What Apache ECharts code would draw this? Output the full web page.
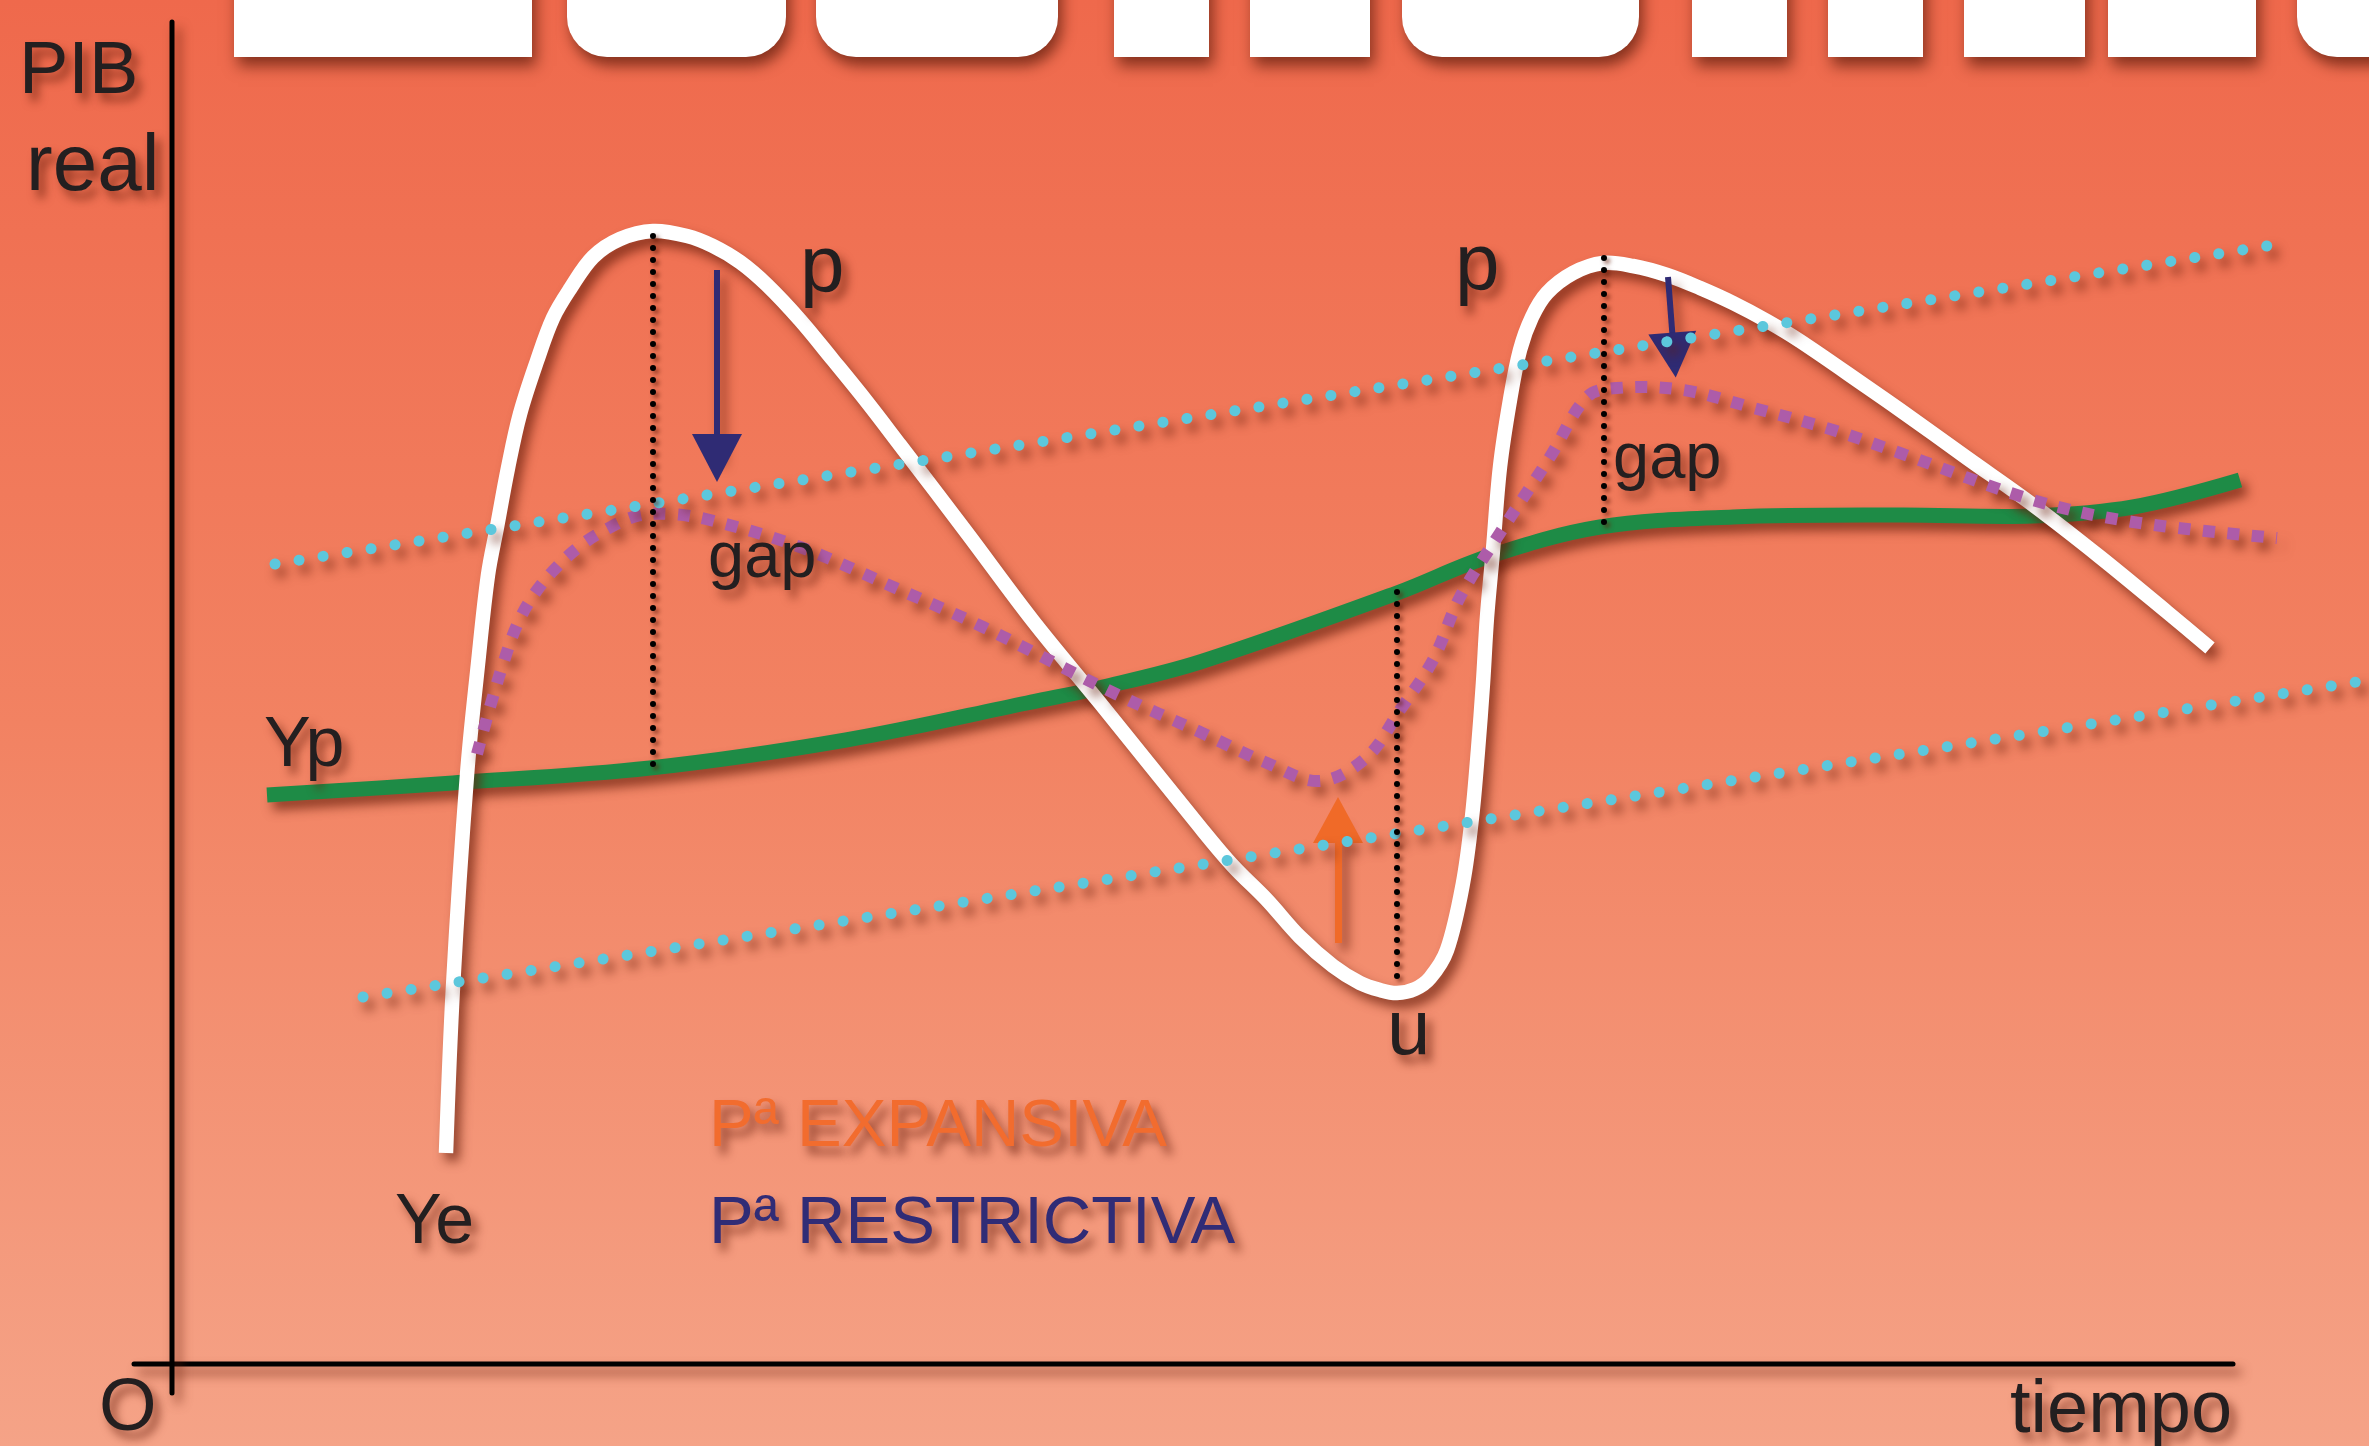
<!DOCTYPE html>
<html>
<head>
<meta charset="utf-8">
<script src="https://cdn.jsdelivr.net/npm/echarts@6.0.0/dist/echarts.min.js"></script>
<style>
html,body{margin:0;padding:0;width:2369px;height:1446px;overflow:hidden;background:#F2805F}
#chart{width:2369px;height:1446px}
</style>
</head>
<body>
<div id="chart"></div>
<script>
// ---- Data (x = tiempo, y = PIB real; origin at "O") ----
// Ye: actual output (white curve)
const ye = [
  [274,211],[281,377],[295,589],[306,700],[316,789],[325,837],[336,896],[348,950],
  [365,1003],[381,1046],[398,1075],[421,1107],[448,1125],[481,1133],[515,1128],[541,1118],
  [568,1102],[595,1079],[628,1044],[661,1004],[695,962],[728,919],[795,831],[861,743],
  [928,661],[1028,537],[1061,498],[1095,464],[1128,427],[1161,398],[1188,381],[1208,374],
  [1225,371],[1243,375],[1258,386],[1275,414],[1291,481],[1300,547],[1306,614],[1311,681],
  [1315,747],[1321,814],[1328,897],[1338,964],[1348,1014],[1360,1047],[1375,1071],
  [1401,1091],[1431,1101],[1461,1098],[1495,1089],[1528,1076],[1561,1061],[1595,1043],
  [1628,1023],[1695,977],[1728,954],[1795,906],[1861,859],[1928,807],[1995,752],[2038,716]
];
// Yp: potential output (green curve)
const yp = [
  [95,569],[281,581],[478,596],[674,624],[855,661],[931,677],[1028,702],[1225,771],
  [1315,807],[1428,837],[1561,847],[1728,849],[1861,848],[1961,857],[2068,884]
];
// Output path with policy (purple dotted)
const yPolicy = [
  [305,610],[318,657],[331,700],[345,739],[361,768],[381,793],[408,818],[435,835],
  [465,848],[498,850],[538,844],[628,817],[728,774],[811,737],[946,669],[1028,632],
  [1095,601],[1148,583],[1195,607],[1228,654],[1261,704],[1288,767],[1328,831],[1378,907],
  [1415,967],[1445,976],[1511,974],[1578,957],[1661,934],[1728,911],[1861,864],[1961,842],
  [2105,826]
];
// Band limits (cyan dotted)
const bandUpper = [[103,800],[2095,1118]];
const bandLower = [[191,367],[2197,684]];
// Gap markers (black dotted verticals)
const gap1 = [[481,1128],[481,596]];
const gap2 = [[1225,772],[1225,379]];
const gap3 = [[1432,1106],[1432,836]];
// Policy arrows [start, end]
const arrowRestr1 = [[545,1094],[545,906]];
const arrowRestr2 = [[1496,1087],[1502,1009]];
const arrowExpan  = [[1166,421],[1166,544]];
// Axes
const axisXLine = [[-38,0],[2061,0]];
const axisYLine = [[0,-29],[0,1342]];

// ---- Styles ----
const SH = {shadowBlur: 11, shadowColor: 'rgba(100,28,10,0.68)', shadowOffsetX: 6, shadowOffsetY: 8};
const TSH = {textShadowBlur: 10, textShadowColor: 'rgba(100,28,10,0.65)', textShadowOffsetX: 6, textShadowOffsetY: 8};
const DARK = '#231F20';
const FONT = '"Liberation Sans", Arial, sans-serif';

function lineSeries(name, data, style, z) {
  return {
    name, type: 'line', data, symbol: 'none', silent: true, z: z,
    lineStyle: Object.assign({}, SH, style)
  };
}
// smooth curve through the data points (drawn via the cartesian scales)
function curveSeries(name, data, style, z) {
  return {
    name, type: 'custom', coordinateSystem: 'cartesian2d', data: data, silent: true, z: z,
    encode: {x: 0, y: 1},
    renderItem: function (params, api) {
      if (params.dataIndex !== 0) return null;
      return {
        type: 'polyline',
        shape: {points: data.map(function (p) { return api.coord(p); }), smooth: 0.35},
        style: Object.assign({fill: 'none'}, SH, style)
      };
    }
  };
}
function arrow(pts, color, width, head) {
  return [
    {coord: pts[0], symbol: 'none', lineStyle: Object.assign({color: color, width: width, type: 'solid'}, SH)},
    {coord: pts[1], symbol: 'triangle', symbolSize: head}
  ];
}
function txt(text, x, baseline, size, color) {
  return {
    type: 'text', x: x, y: baseline - 0.3465 * size, z: 100, silent: true,
    style: Object.assign({
      text: text, x: 0, y: 0, font: size + 'px ' + FONT, fill: color,
      align: 'left', verticalAlign: 'middle'
    }, TSH)
  };
}
function bannerRect(x1, x2, r) {
  return {
    type: 'rect', z: 50, silent: true,
    shape: {x: x1, y: -30, width: x2 - x1, height: 87, r: r},
    style: {fill: '#FFFFFF', shadowBlur: 14, shadowColor: 'rgba(90,25,10,0.7)', shadowOffsetX: 4, shadowOffsetY: 9}
  };
}

const chart = echarts.init(document.getElementById('chart'), null, {renderer: 'canvas'});
chart.setOption({
  animation: false,
  backgroundColor: new echarts.graphic.LinearGradient(0, 0, 0, 1, [
    {offset: 0, color: '#EF694C'},
    {offset: 0.5, color: '#F28262'},
    {offset: 1, color: '#F5A387'}
  ]),
  grid: {left: 0, right: 0, top: 0, bottom: 0},
  xAxis: {type: 'value', min: -172, max: 2197, show: false},
  yAxis: {type: 'value', min: -82, max: 1364, show: false},
  series: [
    lineSeries('ejeX', axisXLine, {color: '#000', width: 5, cap: 'round'}, 1),
    lineSeries('ejeY', axisYLine, {color: '#000', width: 5, cap: 'round'}, 1),
    curveSeries('Yp', yp, {stroke: '#1E8B46', lineWidth: 15}, 2),
    curveSeries('Ye', ye, {stroke: '#FFFFFF', lineWidth: 14.5}, 3),
    curveSeries('Política', yPolicy, {stroke: '#AD5CA9', lineWidth: 12, lineDash: [12, 12.5], lineCap: 'butt'}, 4),
    lineSeries('Banda sup', bandUpper, {color: '#5CC7DC', width: 11, type: [0.1, 24.2], cap: 'round'}, 5),
    lineSeries('Banda inf', bandLower, {color: '#5CC7DC', width: 11, type: [0.1, 24.2], cap: 'round'}, 5),
    lineSeries('gap1', gap1, {color: '#000', width: 6, type: [0.1, 11.9], cap: 'round', shadowBlur: 4, shadowOffsetX: 3, shadowOffsetY: 3}, 6),
    lineSeries('gap2', gap2, {color: '#000', width: 6, type: [0.1, 11.9], cap: 'round', shadowBlur: 4, shadowOffsetX: 3, shadowOffsetY: 3}, 6),
    lineSeries('gap3', gap3, {color: '#000', width: 6, type: [0.1, 11.9], cap: 'round', shadowBlur: 4, shadowOffsetX: 3, shadowOffsetY: 3}, 6),
    {
      name: 'flechas', type: 'line', data: [], silent: true, z: 7,
      markLine: {
        silent: true, animation: false,
        label: {show: false},
        emphasis: {disabled: true},
        data: [
          arrow(arrowRestr1, '#2F2B74', 6, [50, 48]),
          arrow(arrowRestr2, '#2F2B74', 6, [48, 45]),
          arrow(arrowExpan, '#F06A28', 7, [50, 46])
        ]
      }
    }
  ],
  graphic: [
    bannerRect(234, 532, 0),
    bannerRect(567, 786, [0, 0, 40, 40]),
    bannerRect(816, 1058, [0, 0, 40, 40]),
    bannerRect(1114, 1209, 0),
    bannerRect(1250, 1370, 0),
    bannerRect(1402, 1639, [0, 0, 40, 40]),
    bannerRect(1692, 1787, 0),
    bannerRect(1828, 1923, 0),
    bannerRect(1964, 2085, 0),
    bannerRect(2108, 2256, 0),
    bannerRect(2297, 2420, [0, 0, 0, 40]),
    txt('PIB', 19, 98, 74, DARK),
    txt('real', 26, 196, 80, DARK),
    txt('p', 800, 297, 80, DARK),
    txt('p', 1455, 295, 80, DARK),
    txt('gap', 708, 582, 65, DARK),
    txt('gap', 1613, 483, 65, DARK),
    txt('u', 1387, 1060, 78, DARK),
    txt('Yp', 264, 771, 70, DARK),
    txt('Ye', 395, 1248, 70, DARK),
    txt('O', 99, 1435, 74, DARK),
    txt('tiempo', 2010, 1437, 74, DARK),
    txt('Pª EXPANSIVA', 709, 1151, 67, '#F26C2E'),
    txt('Pª RESTRICTIVA', 709, 1248, 67, '#302C76')
  ]
});
</script>
</body>
</html>
